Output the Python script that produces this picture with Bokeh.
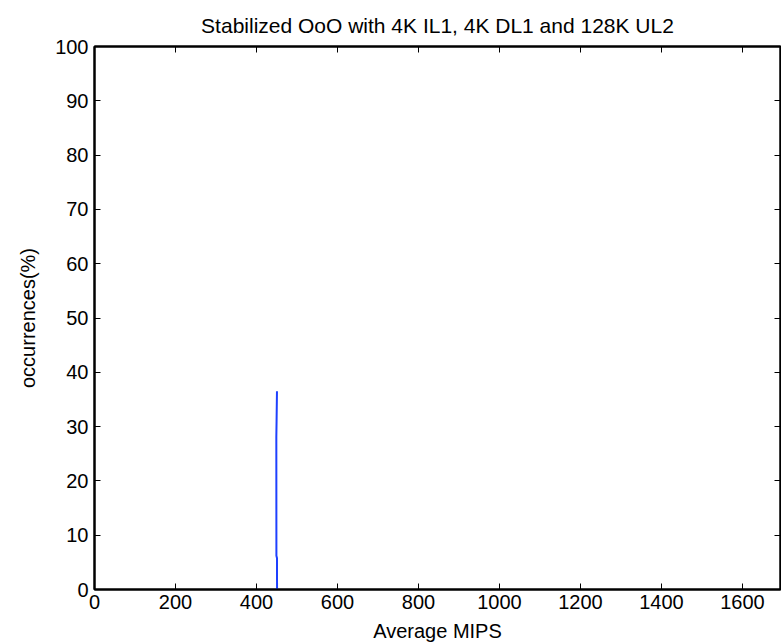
from bokeh.plotting import figure
from bokeh.models import LinearAxis, FixedTicker, Range1d
from bokeh.embed import file_html
from bokeh.resources import INLINE

# Data
mips = [450.8, 450.6, 449.2, 449.0, 449.6, 450.6]
occurrences = [0.0, 5.8, 6.2, 28.0, 31.0, 36.5]

x_ticks = [0, 200, 400, 600, 800, 1000, 1200, 1400, 1600]
y_ticks = [0, 10, 20, 30, 40, 50, 60, 70, 80, 90, 100]

FONT = "Liberation Sans, Arial, Helvetica, sans-serif"

p = figure(width=781, height=641, output_backend="svg", toolbar_location=None,
           x_range=Range1d(0, 1694), y_range=Range1d(0, 100),
           title="Stabilized OoO with 4K IL1, 4K DL1 and 128K UL2",
           x_axis_label="Average MIPS", y_axis_label="occurrences(%)",
           min_border_left=94, min_border_top=46, min_border_bottom=52, min_border_right=1)
p.frame_width = 686
p.frame_height = 543

p.title.align = "center"
p.title.text_font = FONT
p.title.text_font_size = "21px"
p.title.text_font_style = "normal"
p.title.text_color = "black"
p.title.text_line_height = 0.8
p.title.offset = 0
p.title.standoff = 20

p.xgrid.visible = False
p.ygrid.visible = False
p.outline_line_color = "black"
p.outline_line_width = 2

for ax in (p.xaxis[0], p.yaxis[0]):
    ax.major_tick_in = 6
    ax.major_tick_out = 0
    ax.minor_tick_in = 0
    ax.minor_tick_out = 0
    ax.axis_line_width = 2
    ax.major_tick_line_width = 1
    ax.major_label_text_font = FONT
    ax.major_label_text_font_size = "20px"
    ax.major_label_text_color = "black"
    ax.axis_label_text_font = FONT
    ax.axis_label_text_font_size = "20px"
    ax.axis_label_text_font_style = "normal"
    ax.axis_label_text_color = "black"

p.xaxis[0].ticker = FixedTicker(ticks=x_ticks)
p.yaxis[0].ticker = FixedTicker(ticks=y_ticks)
p.xaxis[0].major_label_standoff = 5
p.yaxis[0].major_label_standoff = 6
p.xaxis[0].axis_label_standoff = 8
p.yaxis[0].axis_label_standoff = 13

top = LinearAxis(ticker=FixedTicker(ticks=x_ticks), major_label_text_font_size="0px",
                 major_label_text_color=None,
                 major_tick_in=6, major_tick_out=0, minor_tick_in=0, minor_tick_out=0,
                 axis_line_width=2, major_label_standoff=0)
right = LinearAxis(ticker=FixedTicker(ticks=y_ticks), major_label_text_font_size="0px",
                   major_label_text_color=None,
                   major_tick_in=6, major_tick_out=0, minor_tick_in=0, minor_tick_out=0,
                   axis_line_width=2, major_label_standoff=0)
p.add_layout(top, "above")
p.add_layout(right, "right")

p.line(mips, occurrences, line_color="#1e40ff", line_width=2)

open("out.html", "w").write(file_html(p, INLINE))
